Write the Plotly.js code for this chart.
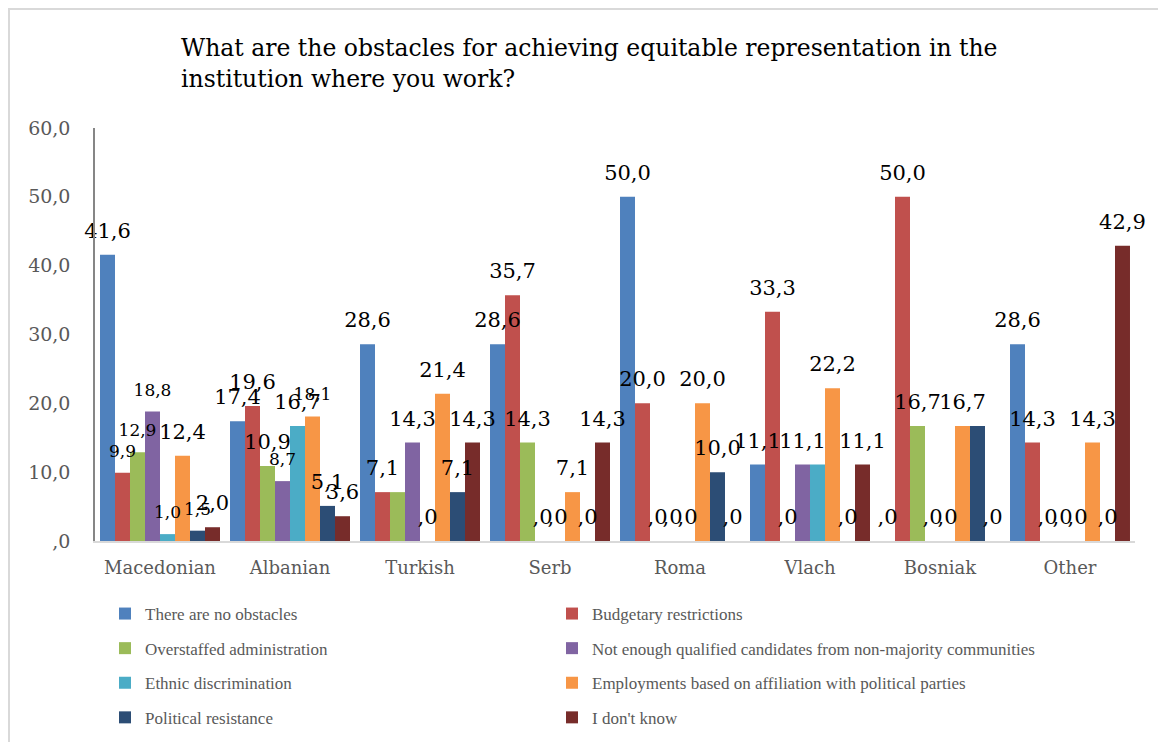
<!DOCTYPE html>
<html>
<head>
<meta charset="utf-8">
<script src="https://cdn.plot.ly/plotly-3.0.1.min.js"></script>
<style>
  html, body { margin: 0; padding: 0; background: #ffffff; }
  #frame { position: absolute; left: 8px; top: 8px; width: 1150px; height: 734px;
           border-left: 2px solid #d9d9d9; border-top: 2px solid #d9d9d9; box-sizing: border-box; }
  #chart { position: absolute; left: 0; top: 0; width: 1158px; height: 742px; }
</style>
</head>
<body>
<div id="frame"></div>
<div id="chart"></div>
<script>
// ---- data ----
const categories = ["Macedonian", "Albanian", "Turkish", "Serb", "Roma", "Vlach", "Bosniak", "Other"];

const seriesNames = [
  "There are no obstacles",
  "Budgetary restrictions",
  "Overstaffed administration",
  "Not enough qualified candidates from non-majority communities",
  "Ethnic discrimination",
  "Employments based on affiliation with political parties",
  "Political resistance",
  "I don't know"
];

const noObstacles      = [41.6, 17.4, 28.6, 28.6, 50.0, 11.1, 0.0, 28.6];
const budgetary        = [9.9, 19.6, 7.1, 35.7, 20.0, 33.3, 50.0, 14.3];
const overstaffed      = [12.9, 10.9, 7.1, 14.3, 0.0, 0.0, 16.7, 0.0];
const notQualified     = [18.8, 8.7, 14.3, 0.0, 0.0, 11.1, 0.0, 0.0];
const ethnicDiscrim    = [1.0, 16.7, 0.0, 0.0, 0.0, 11.1, 0.0, 0.0];
const politicalParties = [12.4, 18.1, 21.4, 7.1, 20.0, 22.2, 16.7, 14.3];
const politicalResist  = [1.5, 5.1, 7.1, 0.0, 10.0, 0.0, 16.7, 0.0];
const dontKnow         = [2.0, 3.6, 14.3, 14.3, 0.0, 11.1, 0.0, 42.9];

const yTickValues = [0, 10, 20, 30, 40, 50, 60];
const yTickLabels = [",0", "10,0", "20,0", "30,0", "40,0", "50,0", "60,0"];

// ---- styling ----
const seriesValues = [noObstacles, budgetary, overstaffed, notQualified, ethnicDiscrim, politicalParties, politicalResist, dontKnow];
const colors = ["#4F81BD", "#C0504D", "#9BBB59", "#8064A2", "#4BACC6", "#F79646", "#2C4D75", "#772C2A"];
const serif = "DejaVu Serif, serif";
const legendSerif = "Liberation Serif, serif";
// labels the original draws in a smaller size: "series:category"
const smallLabelKeys = new Set(["1:0", "2:0", "3:0", "4:0", "6:0", "3:1", "5:1"]);
// labels that coincide with a neighbour's identical label in the original (drawn once)
const mergedLabelKeys = new Set(["2:2", "4:5", "6:6"]);
// lift of the value labels above the bar tops, in axis units (about 9 px)
const LABEL_LIFT = 1.3;

function fmt(v) {
  const s = v.toFixed(1).replace(".", ",");
  return s.startsWith("0,") ? s.slice(1) : s;
}

const barTraces = seriesValues.map((vals, i) => ({
  type: "bar",
  name: seriesNames[i],
  x: categories,
  y: vals,
  offsetgroup: "s" + i,
  marker: { color: colors[i], line: { width: 0 } },
  legend: (i % 2 === 0) ? "legend" : "legend2",
  legendgroup: "g" + i,
  hovertemplate: "%{x}<br>" + seriesNames[i] + ": %{y:.1f}<extra></extra>"
}));

const labelTraces = seriesValues.map((vals, i) => ({
  type: "bar",
  name: seriesNames[i] + " labels",
  x: categories,
  y: vals,
  base: LABEL_LIFT,
  offsetgroup: "s" + i,
  marker: { color: "rgba(0,0,0,0)", line: { width: 0 } },
  text: vals.map((v, j) => mergedLabelKeys.has(i + ":" + j) ? "" : fmt(v)),
  textposition: "outside",
  constraintext: "none",
  cliponaxis: false,
  textangle: 0,
  textfont: {
    family: serif,
    size: vals.map((v, j) => smallLabelKeys.has(i + ":" + j) ? 17 : 21),
    color: "#000000"
  },
  showlegend: false,
  hoverinfo: "skip"
}));

const legendFont = { family: legendSerif, size: 17, color: "#595959" };

const layout = {
  width: 1158,
  height: 742,
  paper_bgcolor: "rgba(0,0,0,0)",
  plot_bgcolor: "rgba(0,0,0,0)",
  margin: { l: 95, r: 23, t: 128, b: 201, autoexpand: false },
  barmode: "group",
  bargap: 0.077,
  bargroupgap: 0,
  showlegend: true,
  title: {
    text: "What are the obstacles for achieving equitable representation in the<br>institution where you work?",
    font: { family: serif, size: 23.5, color: "#000000" },
    x: 181 / 1158,
    xanchor: "left",
    xref: "container",
    y: 1 - 56 / 742,
    yanchor: "top",
    yref: "container",
    automargin: false
  },
  xaxis: {
    type: "category",
    showline: true,
    linecolor: "#d9d9d9",
    linewidth: 2,
    ticks: "",
    showgrid: false,
    zeroline: false,
    tickfont: { family: serif, size: 18, color: "#595959" },
    ticklabelstandoff: 9
  },
  yaxis: {
    range: [0, 60],
    tickvals: yTickValues,
    ticktext: yTickLabels,
    showgrid: false,
    zeroline: false,
    showline: true,
    linecolor: "#868686",
    linewidth: 1.5,
    ticks: "",
    tickfont: { family: serif, size: 19, color: "#595959" },
    ticklabelstandoff: 19
  },
  legend: {
    orientation: "v",
    x: (105 - 95) / 1040,
    xanchor: "left",
    y: (541 - 596) / 413,
    yanchor: "top",
    font: legendFont,
    tracegroupgap: 9.5,
    bgcolor: "rgba(0,0,0,0)",
    itemclick: false,
    itemdoubleclick: false
  },
  legend2: {
    orientation: "v",
    x: (552 - 95) / 1040,
    xanchor: "left",
    y: (541 - 596) / 413,
    yanchor: "top",
    font: legendFont,
    tracegroupgap: 9.5,
    bgcolor: "rgba(0,0,0,0)",
    itemclick: false,
    itemdoubleclick: false
  }
};

Plotly.newPlot("chart", barTraces.concat(labelTraces), layout, { displayModeBar: false, responsive: false });
</script>
</body>
</html>
